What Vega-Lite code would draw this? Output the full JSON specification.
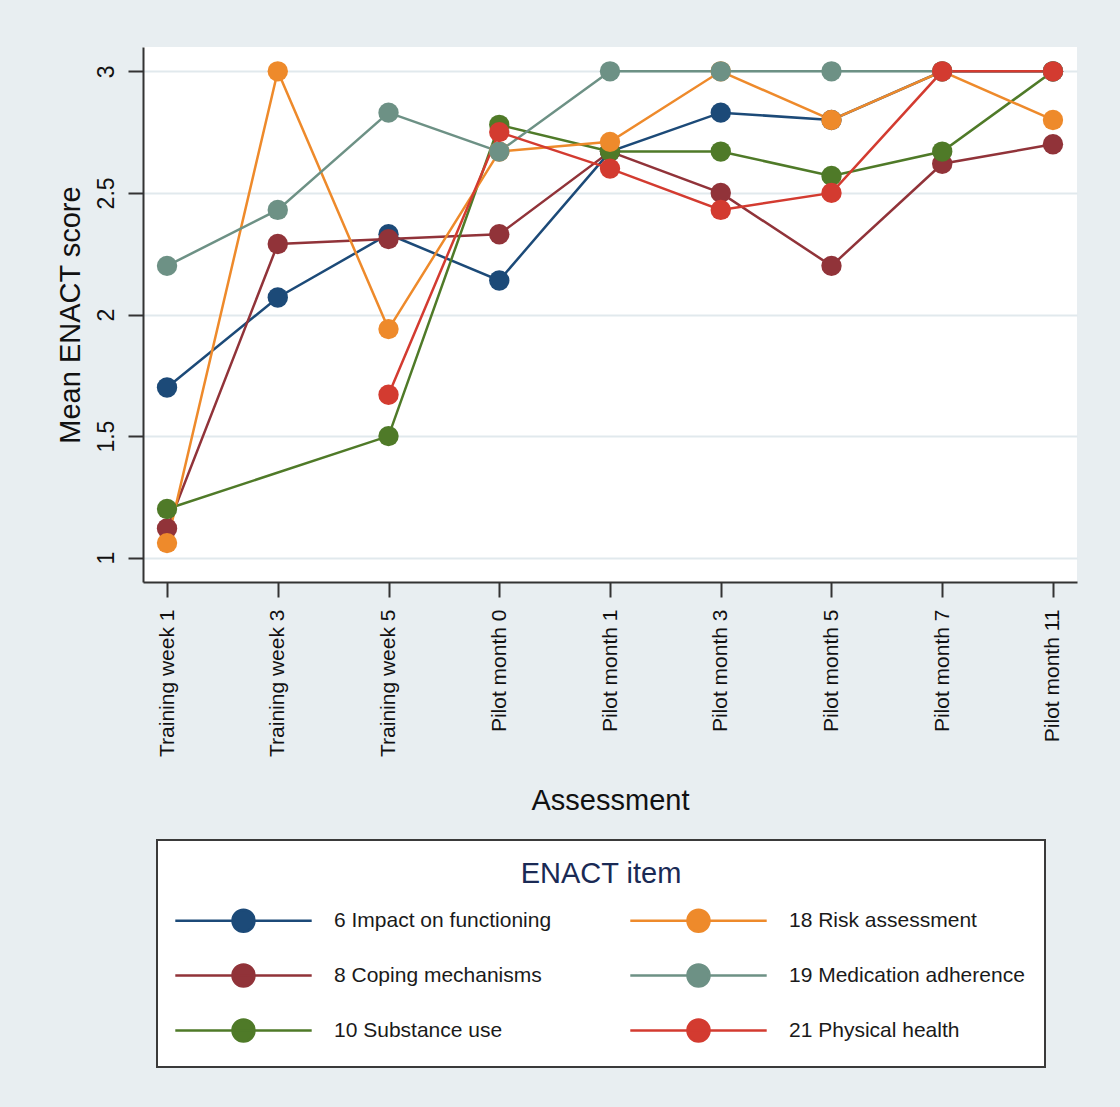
{
  "$schema": "https://vega.github.io/schema/vega-lite/v6.json",
  "width": 934,
  "height": 535,
  "autosize": {"type": "none"},
  "padding": {"left": 143, "top": 47, "right": 43, "bottom": 525},
  "background": "#e8eef1",
  "config": {
    "font": "Liberation Sans",
    "view": {"fill": "white", "stroke": null},
    "axis": {
      "domainColor": "#333333",
      "domainWidth": 2,
      "tickColor": "#333333",
      "tickWidth": 2,
      "tickSize": 15,
      "labelColor": "#111111",
      "titleColor": "#111111",
      "titleFontWeight": "normal",
      "titleFontSize": 29,
      "gridColor": "#e1e9ed",
      "gridWidth": 2
    }
  },
  "data": {
    "values": [
      {"assessment": "Training week 1", "item": "6 Impact on functioning", "score": 1.7},
      {"assessment": "Training week 3", "item": "6 Impact on functioning", "score": 2.07},
      {"assessment": "Training week 5", "item": "6 Impact on functioning", "score": 2.33},
      {"assessment": "Pilot month 0", "item": "6 Impact on functioning", "score": 2.14},
      {"assessment": "Pilot month 1", "item": "6 Impact on functioning", "score": 2.67},
      {"assessment": "Pilot month 3", "item": "6 Impact on functioning", "score": 2.83},
      {"assessment": "Pilot month 5", "item": "6 Impact on functioning", "score": 2.8},
      {"assessment": "Pilot month 7", "item": "6 Impact on functioning", "score": 3},
      {"assessment": "Pilot month 11", "item": "6 Impact on functioning", "score": 3},

      {"assessment": "Training week 1", "item": "8 Coping mechanisms", "score": 1.12},
      {"assessment": "Training week 3", "item": "8 Coping mechanisms", "score": 2.29},
      {"assessment": "Training week 5", "item": "8 Coping mechanisms", "score": 2.31},
      {"assessment": "Pilot month 0", "item": "8 Coping mechanisms", "score": 2.33},
      {"assessment": "Pilot month 1", "item": "8 Coping mechanisms", "score": 2.67},
      {"assessment": "Pilot month 3", "item": "8 Coping mechanisms", "score": 2.5},
      {"assessment": "Pilot month 5", "item": "8 Coping mechanisms", "score": 2.2},
      {"assessment": "Pilot month 7", "item": "8 Coping mechanisms", "score": 2.62},
      {"assessment": "Pilot month 11", "item": "8 Coping mechanisms", "score": 2.7},

      {"assessment": "Training week 1", "item": "10 Substance use", "score": 1.2},
      {"assessment": "Training week 5", "item": "10 Substance use", "score": 1.5},
      {"assessment": "Pilot month 0", "item": "10 Substance use", "score": 2.78},
      {"assessment": "Pilot month 1", "item": "10 Substance use", "score": 2.67},
      {"assessment": "Pilot month 3", "item": "10 Substance use", "score": 2.67},
      {"assessment": "Pilot month 5", "item": "10 Substance use", "score": 2.57},
      {"assessment": "Pilot month 7", "item": "10 Substance use", "score": 2.67},
      {"assessment": "Pilot month 11", "item": "10 Substance use", "score": 3},

      {"assessment": "Training week 1", "item": "18 Risk assessment", "score": 1.06},
      {"assessment": "Training week 3", "item": "18 Risk assessment", "score": 3},
      {"assessment": "Training week 5", "item": "18 Risk assessment", "score": 1.94},
      {"assessment": "Pilot month 0", "item": "18 Risk assessment", "score": 2.67},
      {"assessment": "Pilot month 1", "item": "18 Risk assessment", "score": 2.71},
      {"assessment": "Pilot month 3", "item": "18 Risk assessment", "score": 3},
      {"assessment": "Pilot month 5", "item": "18 Risk assessment", "score": 2.8},
      {"assessment": "Pilot month 7", "item": "18 Risk assessment", "score": 3},
      {"assessment": "Pilot month 11", "item": "18 Risk assessment", "score": 2.8},

      {"assessment": "Training week 1", "item": "19 Medication adherence", "score": 2.2},
      {"assessment": "Training week 3", "item": "19 Medication adherence", "score": 2.43},
      {"assessment": "Training week 5", "item": "19 Medication adherence", "score": 2.83},
      {"assessment": "Pilot month 0", "item": "19 Medication adherence", "score": 2.67},
      {"assessment": "Pilot month 1", "item": "19 Medication adherence", "score": 3},
      {"assessment": "Pilot month 3", "item": "19 Medication adherence", "score": 3},
      {"assessment": "Pilot month 5", "item": "19 Medication adherence", "score": 3},
      {"assessment": "Pilot month 7", "item": "19 Medication adherence", "score": 3},
      {"assessment": "Pilot month 11", "item": "19 Medication adherence", "score": 3},

      {"assessment": "Training week 5", "item": "21 Physical health", "score": 1.67},
      {"assessment": "Pilot month 0", "item": "21 Physical health", "score": 2.75},
      {"assessment": "Pilot month 1", "item": "21 Physical health", "score": 2.6},
      {"assessment": "Pilot month 3", "item": "21 Physical health", "score": 2.43},
      {"assessment": "Pilot month 5", "item": "21 Physical health", "score": 2.5},
      {"assessment": "Pilot month 7", "item": "21 Physical health", "score": 3},
      {"assessment": "Pilot month 11", "item": "21 Physical health", "score": 3}
    ]
  },
  "encoding": {
    "x": {
      "field": "assessment",
      "type": "ordinal",
      "sort": ["Training week 1", "Training week 3", "Training week 5", "Pilot month 0", "Pilot month 1", "Pilot month 3", "Pilot month 5", "Pilot month 7", "Pilot month 11"],
      "scale": {"type": "point", "padding": 0.217},
      "axis": {
        "title": "Assessment",
        "labelAngle": 270,
        "labelAlign": "right",
        "labelBaseline": "middle",
        "labelFontSize": 21,
        "labelPadding": 12,
        "titlePadding": 30,
        "grid": false
      }
    },
    "y": {
      "field": "score",
      "type": "quantitative",
      "scale": {"domain": [0.9, 3.1], "nice": false, "zero": false},
      "axis": {
        "title": "Mean ENACT score",
        "values": [1, 1.5, 2, 2.5, 3],
        "format": "~g",
        "grid": true,
        "labelAngle": 270,
        "labelAlign": "center",
        "labelBaseline": "bottom",
        "labelFontSize": 23,
        "labelPadding": 10,
        "titlePadding": 10
      }
    },
    "color": {
      "field": "item",
      "type": "nominal",
      "scale": {
        "domain": ["6 Impact on functioning", "8 Coping mechanisms", "10 Substance use", "18 Risk assessment", "19 Medication adherence", "21 Physical health"],
        "range": ["#1c4a78", "#913339", "#4f7a28", "#ee8a2b", "#6d9185", "#d33b30"]
      },
      "legend": {
        "title": "ENACT item",
        "orient": "none",
        "legendX": 14,
        "legendY": 793,
        "columns": 2,
        "titleFontSize": 29,
        "titleFontWeight": "normal",
        "titleColor": "#1a2a55",
        "titleAnchor": "middle",
        "titlePadding": 19,
        "labelFontSize": 21,
        "labelColor": "#1a1a1a",
        "labelOffset": 78,
        "labelLimit": 400,
        "symbolType": "M-6.2,0L6.2,0M1,0A1,1 0 1 1 -1,0A1,1 0 1 1 1,0Z",
        "symbolSize": 484,
        "symbolStrokeWidth": 2.5,
        "symbolOffset": 54,
        "rowPadding": 22,
        "columnPadding": 73,
        "padding": 20,
        "fillColor": "white",
        "strokeColor": "#3a3a3a",
        "encode": {
          "legend": {"update": {"strokeWidth": {"value": 2}}},
          "symbols": {
            "update": {
              "fill": {"scale": "color", "field": "value"},
              "stroke": {"scale": "color", "field": "value"},
              "opacity": {"value": 1}
            }
          }
        }
      }
    }
  },
  "layer": [
    {"mark": {"type": "line", "strokeWidth": 2.5}},
    {"mark": {"type": "point", "filled": true, "size": 415, "opacity": 1}}
  ]
}
